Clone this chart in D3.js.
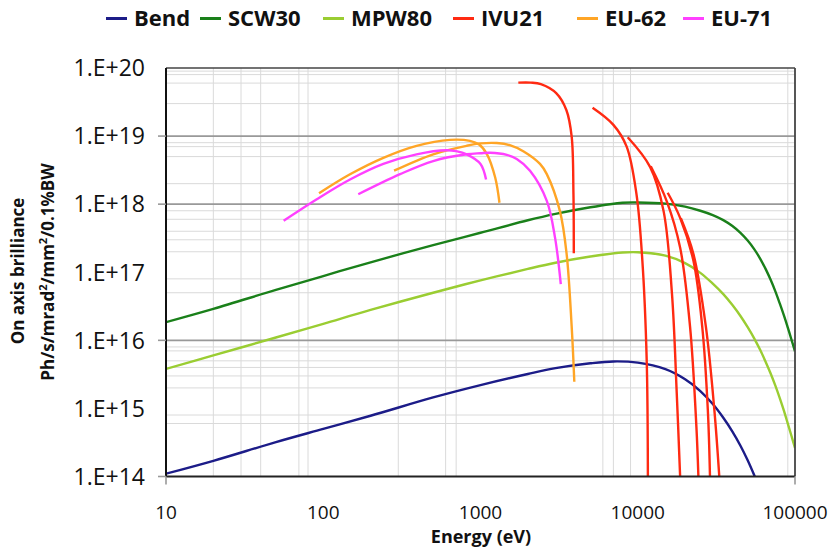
<!DOCTYPE html>
<html><head><meta charset="utf-8">
<script src="https://cdn.jsdelivr.net/npm/d3@7"></script>
<style>
html,body{margin:0;padding:0;background:#fff;}
svg{display:block;}
text{font-family:"Open Sans","DejaVu Sans",sans-serif;fill:#111;}
</style></head>
<body>
<svg id="chart" width="829" height="548"></svg>
<script>
// ---------- DATA (energy eV, brilliance) ----------
const seriesNames = ["Bend","SCW30","MPW80","IVU21","EU-62","EU-71"];
const seriesColors = ["#1c1c88","#1a801a","#9acd32","#ff2a12","#ffa526","#ff40ff"];

const bend = [[10,1.1e14],[20,1.7e14],[50,3.2e14],[100,5.0e14],[200,7.8e14],[500,1.45e15],[1000,2.2e15],[2000,3.2e15],[3000,3.9e15],[5000,4.6e15],[7000,4.9e15],[10000,4.7e15],[15000,3.77e15],[20000,2.68e15],[25000,1.8e15],[30000,1.16e15],[35000,7.3e14],[40000,4.57e14],[45000,2.83e14],[50000,1.73e14],[55500,1.0e14]];
const scw30 = [[10,1.85e16],[20,2.9e16],[50,5.5e16],[100,8.8e16],[200,1.4e17],[500,2.5e17],[1000,3.8e17],[2000,5.8e17],[3000,7.2e17],[5000,9.0e17],[8000,1.05e18],[10000,1.06e18],[15000,1.02e18],[20000,9.2e17],[25000,8.0e17],[30000,6.9e17],[35000,5.82e17],[40000,4.77e17],[45000,3.79e17],[50000,2.92e17],[55000,2.19e17],[60000,1.59e17],[65000,1.12e17],[70000,7.74e16],[75000,5.24e16],[80000,3.48e16],[85000,2.32e16],[90000,1.54e16],[95000,1.02e16],[100000,6.9e15]];
const mpw80 = [[10,3.8e15],[20,6.0e15],[50,1.1e16],[100,1.75e16],[200,2.8e16],[500,5.0e16],[1000,7.6e16],[2000,1.12e17],[3000,1.38e17],[5000,1.7e17],[8000,1.95e17],[10000,1.97e17],[15000,1.75e17],[20000,1.36e17],[25000,9.8e16],[30000,6.8e16],[35000,4.77e16],[40000,3.3e16],[45000,2.28e16],[50000,1.56e16],[55000,1.07e16],[60000,7.25e15],[65000,4.86e15],[70000,3.26e15],[75000,2.16e15],[80000,1.42e15],[85000,9.27e14],[90000,5.98e14],[95000,3.93e14],[100000,2.63e14]];
const ivu21H1 = [[1740,6.1e19],[2090,6.1e19],[2420,5.8e19],[3040,4.25e19],[3520,2.4e19],[3800,9.8e18],[3900,1.43e18],[3920,1.9e17]];
const ivu21H2 = [[5160,2.6e19],[7000,1.46e19],[8500,7.0e18],[9800,1.44e18],[10700,1.47e17],[11400,5.1e15],[11600,1.0e14]];
const ivu21H3 = [[8630,9.6e18],[12000,3.5e18],[14600,7.9e17],[16500,4.9e16],[17700,1.67e15],[18600,1.0e14]];
const ivu21H4 = [[12100,3.6e18],[15300,1.1e18],[18600,2.3e17],[21500,1.6e16],[23600,5.4e14],[24300,1.0e14]];
const ivu21H5 = [[15500,1.47e18],[18600,6.3e17],[22600,1.47e17],[25700,1.6e16],[27900,9.5e14],[28800,1.0e14]];
const ivu21H6 = [[18800,6.2e17],[22600,1.85e17],[27100,1.6e16],[30700,9.5e14],[33000,1.0e14]];
const eu62A = [[94,1.45e18],[148,2.75e18],[241,4.8e18],[392,7.2e18],[640,8.8e18],[857,8.5e18],[980,7.5e18],[1100,5.4e18],[1240,2.46e18],[1320,1.05e18]];
const eu62B = [[282,3.1e18],[500,5.4e18],[817,7.2e18],[1000,7.8e18],[1270,7.9e18],[1550,7.3e18],[1870,6.0e18],[2390,3.9e18],[2640,2.76e18],[3200,7.9e17],[3530,1.85e17],[3800,1.6e16],[3950,2.46e15]];
const eu71A = [[56,5.7e17],[91,1.18e18],[148,2.3e18],[241,3.9e18],[392,5.4e18],[610,6.2e18],[700,6.0e18],[817,5.4e18],[1000,3.9e18],[1085,2.3e18]];
const eu71B = [[167,1.4e18],[308,2.76e18],[500,4.3e18],[817,5.4e18],[1000,5.6e18],[1150,5.7e18],[1470,5.3e18],[1700,4.6e18],[2065,3.1e18],[2640,1.12e18],[2980,3.2e17],[3240,6.7e16]];

const xTicks = [10,100,1000,10000,100000];
const yTicks = [1e14,1e15,1e16,1e17,1e18,1e19,1e20];
const yTickLabels = ["1.E+14","1.E+15","1.E+16","1.E+17","1.E+18","1.E+19","1.E+20"];
const yMajorGrid = [1e16,1e18,1e19];
const yTickMarks = [1e14,1e16,1e18,1e19];
const xTickMarks = [10,100000];
const xMinorGrid = [20,30,40,70,80,300,600,700,6000,7000,9000,90000];
const yMinorGrid = [9e19,8e19,6e19,3e19,8e18,7e18,5e18,2e18,8e17,6e17,4e17,3e17,2e17,8e16,5e16,8e15,7e15,5e15,4e15,3e15,2e15,8e14,6e14];

// ---------- CHART ----------
const svg = d3.select("#chart");
const L = 166, R = 795, T = 68, B = 476.5;
const x = d3.scaleLog().domain([10,100000]).range([L,R]);
const y = d3.scaleLog().domain([1e14,1e20]).range([B,T]);

// minor grid
svg.append("g").selectAll("line").data(xMinorGrid).join("line")
  .attr("x1",d=>x(d)).attr("x2",d=>x(d)).attr("y1",T).attr("y2",B)
  .attr("stroke","#dadada").attr("stroke-width",1);
svg.append("g").selectAll("line").data(yMinorGrid).join("line")
  .attr("x1",L).attr("x2",R).attr("y1",d=>y(d)).attr("y2",d=>y(d))
  .attr("stroke","#dadada").attr("stroke-width",1);
// major grid
svg.append("g").selectAll("line").data(yMajorGrid).join("line")
  .attr("x1",L).attr("x2",R).attr("y1",d=>y(d)).attr("y2",d=>y(d))
  .attr("stroke","#999").attr("stroke-width",1.6);

// curves
svg.append("defs").append("clipPath").attr("id","clip")
  .append("rect").attr("x",L).attr("y",T).attr("width",R-L).attr("height",B-T);
const line = d3.line().x(d=>x(d[0])).y(d=>y(d[1])).curve(d3.curveCatmullRom.alpha(0.5));
const groups = [
  {name:"Bend", curves:[bend]},
  {name:"SCW30", curves:[scw30]},
  {name:"MPW80", curves:[mpw80]},
  {name:"IVU21", curves:[ivu21H1,ivu21H2,ivu21H3,ivu21H4,ivu21H5,ivu21H6]},
  {name:"EU-62", curves:[eu62A,eu62B]},
  {name:"EU-71", curves:[eu71A,eu71B]}
];
const cg = svg.append("g").attr("clip-path","url(#clip)");
groups.forEach(g=>{
  const col = seriesColors[seriesNames.indexOf(g.name)];
  g.curves.forEach(c=>{
    cg.append("path").attr("d",line(c)).attr("fill","none")
      .attr("stroke",col).attr("stroke-width",2.4).attr("stroke-linejoin","round");
  });
});

// frame
svg.append("line").attr("x1",L).attr("x2",R).attr("y1",T).attr("y2",T).attr("stroke","#444").attr("stroke-width",1.6);
svg.append("line").attr("x1",R).attr("x2",R).attr("y1",T).attr("y2",B).attr("stroke","#444").attr("stroke-width",1.8);
svg.append("line").attr("x1",L).attr("x2",R).attr("y1",B).attr("y2",B).attr("stroke","#222").attr("stroke-width",1.8);
svg.append("line").attr("x1",L).attr("x2",L).attr("y1",T).attr("y2",B).attr("stroke","#111").attr("stroke-width",2);

// tick marks
svg.append("g").selectAll("line").data(yTickMarks).join("line")
  .attr("x1",158).attr("x2",L).attr("y1",d=>y(d)).attr("y2",d=>y(d))
  .attr("stroke","#999").attr("stroke-width",1.6);
svg.append("g").selectAll("line").data(xTickMarks).join("line")
  .attr("x1",d=>x(d)).attr("x2",d=>x(d)).attr("y1",B).attr("y2",B+8)
  .attr("stroke","#999").attr("stroke-width",1.6);

// y tick labels
svg.append("g").selectAll("text").data(yTicks).join("text")
  .attr("x",145).attr("y",d=>y(d)).attr("dy","0.36em")
  .attr("text-anchor","end").style("font-size","23px")
  .text((d,i)=>yTickLabels[i]);
// x tick labels
svg.append("g").selectAll("text").data(xTicks).join("text")
  .attr("x",d=>x(d)).attr("y",519).attr("text-anchor","middle")
  .style("font-size","19px").text(d=>d3.format("d")(d));

// axis titles
svg.append("text").attr("x",481).attr("y",543).attr("text-anchor","middle")
  .style("font-size","18px").style("font-weight","700").text("Energy (eV)");
svg.append("text").attr("transform","translate(24,271) rotate(-90)")
  .attr("text-anchor","middle").style("font-size","17px").style("font-weight","700")
  .text("On axis brilliance");
const t2 = svg.append("text").attr("transform","translate(54,272) rotate(-90)")
  .attr("text-anchor","middle").style("font-size","17px").style("font-weight","700");
t2.append("tspan").text("Ph/s/mrad");
t2.append("tspan").attr("dy",-7).style("font-size","11px").text("2");
t2.append("tspan").attr("dy",7).text("/mm");
t2.append("tspan").attr("dy",-7).style("font-size","11px").text("2");
t2.append("tspan").attr("dy",7).text("/0.1%BW");

// legend
const legendX = [106,200,323,453,577,683];
const lg = svg.append("g");
seriesNames.forEach((n,i)=>{
  lg.append("line").attr("x1",legendX[i]).attr("x2",legendX[i]+21).attr("y1",18.5).attr("y2",18.5)
    .attr("stroke",seriesColors[i]).attr("stroke-width",3);
  lg.append("text").attr("x",legendX[i]+28).attr("y",26)
    .style("font-size","22px").style("font-weight","700").text(n);
});
</script>
</body></html>
